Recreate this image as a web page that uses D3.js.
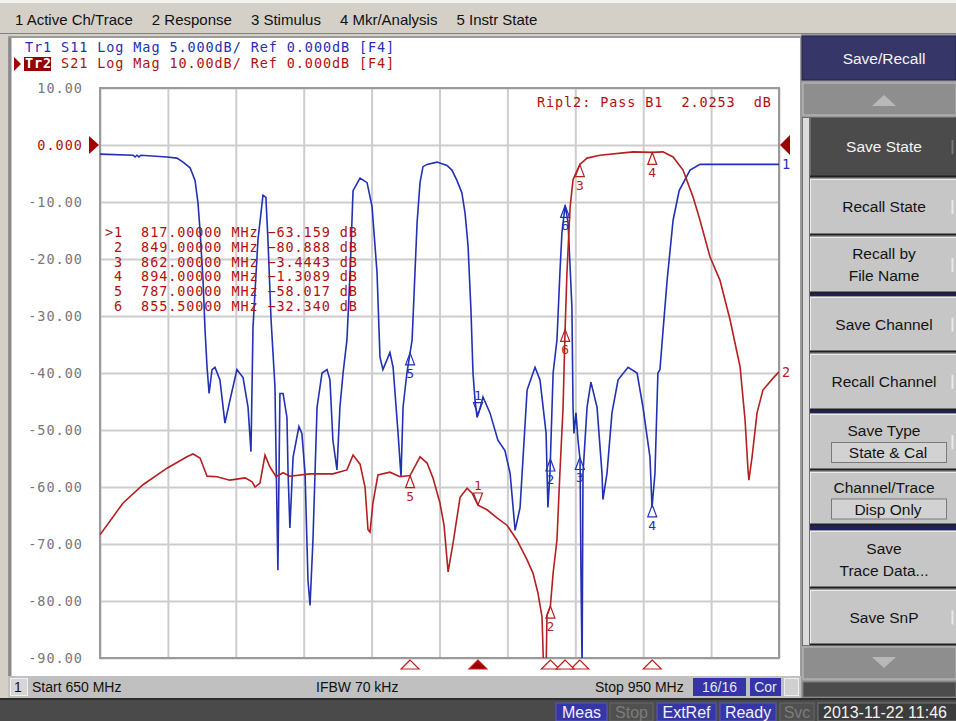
<!DOCTYPE html>
<html>
<head>
<meta charset="utf-8">
<script src="https://cdn.jsdelivr.net/npm/d3@7"></script>
<style>
  body { margin: 0; background: #d4d0c8; }
  svg { display: block; }
</style>
</head>
<body>
<svg id="vna" width="956" height="721"></svg>
<script>
// ---- data ----
var menuLabels = ["1 Active Ch/Trace", "2 Response", "3 Stimulus", "4 Mkr/Analysis", "5 Instr State"];
var traceNames = ["Tr1", "Tr2"];
var traceSetup = ["S11 Log Mag 5.000dB/ Ref 0.000dB [F4]", "S21 Log Mag 10.00dB/ Ref 0.000dB [F4]"];

var startFreq = 650, stopFreq = 950;
var s21Scale = [-90, 10];   // 10 dB/div, ref 0 dB
var s11Scale = [-45, 5];    // 5 dB/div, ref 0 dB
var yTickValues = [10, 0, -10, -20, -30, -40, -50, -60, -70, -80, -90];
var yTickLabels = ["10.00", "0.000", "-10.00", "-20.00", "-30.00", "-40.00", "-50.00", "-60.00", "-70.00", "-80.00", "-90.00"];

// S21 (red trace), MHz / dB
var freqS21 = [650.0, 660.2, 669.0, 679.6, 688.4, 691.1, 694.2, 697.3, 701.7, 707.4, 714.1, 717.2, 718.5, 720.7, 722.9,
  725.1, 727.8, 730.9, 733.9, 742.8, 752.9, 759.1, 761.8, 764.9, 767.1, 768.4, 769.3, 770.6, 772.8, 778.1,
  782.5, 787.0, 791.4, 794.5, 797.1, 800.2, 802.0, 803.8, 806.0, 809.1, 812.2, 814.4, 817.0, 821.0, 825.4,
  829.8, 834.2, 838.7, 841.3, 843.5, 845.3, 846.0, 847.1, 847.5, 849.0, 850.2, 851.9, 853.2, 854.6, 855.5,
  856.3, 857.7, 859.0, 862.0, 865.2, 870.9, 885.5, 894.0, 898.7, 903.2, 907.6, 912.0, 915.1, 919.5, 923.9,
  928.4, 932.8, 935.0, 936.3, 936.7, 938.1, 940.3, 942.9, 947.4, 950.0];
var s21 = [-68.4, -62.8, -59.6, -56.7, -54.7, -54.2, -54.9, -58.1, -58.2, -58.8, -58.4, -59.1, -60.0, -59.3, -54.4,
  -56.5, -58.2, -57.5, -58.1, -57.7, -57.7, -57.0, -54.4, -56.0, -60.0, -67.5, -67.9, -62.8, -57.9, -57.4,
  -58.2, -58.0, -54.7, -55.8, -58.4, -62.8, -66.7, -74.9, -69.8, -61.8, -60.2, -61.1, -63.2, -64.0, -65.4,
  -66.7, -69.3, -72.8, -75.1, -78.6, -82.8, -92.0, -92.0, -82.5, -80.9, -75.1, -69.3, -57.5, -46.0, -32.3,
  -22.5, -10.9, -6.1, -3.4, -2.3, -1.8, -1.2, -1.3, -1.2, -2.1, -4.4, -9.1, -13.2, -19.6, -23.7,
  -30.7, -38.9, -48.2, -57.0, -58.8, -54.7, -47.0, -43.0, -40.9, -39.8];

// S11 (blue trace), MHz / dB
var freqS11 = [650.0, 664.6, 665.5, 666.3, 667.2, 668.1, 679.6, 684.0, 686.7, 689.8, 692.0, 693.3, 694.2, 695.5, 696.4,
  697.3, 698.2, 699.5, 700.8, 703.0, 705.2, 707.4, 710.5, 713.2, 715.4, 716.7, 717.6, 719.8, 722.0, 723.3,
  724.2, 725.6, 727.3, 728.6, 729.5, 730.9, 732.6, 733.1, 733.9, 735.3, 737.9, 739.2, 740.6, 741.9, 742.8,
  744.1, 745.9, 748.1, 750.3, 751.6, 752.9, 754.7, 756.0, 757.4, 759.1, 760.5, 761.8, 764.9, 768.0, 770.2,
  772.4, 773.7, 775.0, 778.1, 779.5, 781.7, 783.0, 783.9, 785.6, 787.9, 790.1, 791.4, 792.7, 794.5, 798.9,
  803.3, 805.5, 807.7, 809.9, 811.3, 812.6, 813.9, 814.8, 815.7, 816.6, 817.9, 819.2, 822.3, 825.8, 828.9,
  831.2, 833.4, 835.6, 838.7, 842.2, 844.4, 847.1, 847.9, 848.8, 850.2, 851.9, 853.2, 854.1, 855.5, 856.8,
  858.5, 859.0, 859.4, 860.3, 861.2, 862.1, 862.5, 863.0, 863.4, 865.2, 866.9, 869.6, 871.8, 872.2, 874.0,
  876.2, 878.9, 883.3, 887.3, 889.9, 893.0, 893.9, 895.2, 896.5, 897.4, 898.8, 900.6, 903.2, 905.9, 910.7,
  915.1, 950.0];
var s11 = [-0.8, -0.9, -1.05, -0.9, -1.05, -0.9, -1.05, -1.15, -1.5, -2.0, -3.1, -5.1, -7.5, -11.8, -16.2,
  -19.5, -21.8, -19.7, -19.5, -20.6, -24.4, -22.4, -19.7, -20.4, -23.0, -26.9, -16.0, -8.3, -4.4, -4.6,
  -8.3, -15.4, -21.2, -37.3, -21.8, -21.8, -23.9, -28.8, -33.6, -27.4, -24.7, -25.3, -28.8, -38.2, -40.4,
  -34.6, -23.0, -20.0, -19.7, -20.6, -25.9, -28.5, -23.0, -20.0, -17.1, -11.2, -4.0, -2.9, -3.3, -5.4,
  -11.2, -18.6, -19.7, -18.2, -19.5, -25.3, -29.1, -23.0, -20.0, -17.1, -6.8, -3.3, -1.9, -1.7, -1.5,
  -1.8, -2.2, -3.1, -4.2, -6.0, -8.8, -14.5, -20.0, -22.4, -23.9, -23.1, -22.1, -23.5, -25.9, -26.8,
  -28.8, -33.8, -31.8, -21.5, -19.5, -20.6, -25.3, -31.8, -28.8, -20.0, -17.1, -11.2, -7.7, -5.3, -6.8,
  -14.2, -23.0, -25.3, -23.5, -25.9, -27.6, -37.5, -46.0, -28.8, -23.0, -20.8, -23.0, -28.8, -31.1, -28.8,
  -23.5, -20.6, -19.5, -20.0, -23.0, -27.4, -31.8, -28.8, -20.0, -19.7, -16.2, -11.8, -6.6, -4.0, -2.2,
  -1.7, -1.7];

// markers (readout belongs to the active trace S21)
var markerIds = [1, 2, 3, 4, 5, 6];
var markerFreqs = [817, 849, 862, 894, 787, 855.5];
var markerS21 = [-63.159, -80.888, -3.4443, -1.3089, -58.017, -32.340];
var activeMarker = 1;
var rippleText = "Ripl2: Pass B1  2.0253  dB";

var ifbwText = "IFBW 70 kHz";
var sweepText = "16/16";
var softkeyTitle = "Save/Recall";
var softkeys = [["Save State"], ["Recall State"], ["Recall by", "File Name"], ["Save Channel"], ["Recall Channel"],
  ["Save Type"], ["Channel/Trace"], ["Save", "Trace Data..."], ["Save SnP"]];
var softkeyValues = [null, null, null, null, null, "State & Cal", "Disp Only", null, null];
var statusLabels = ["Meas", "Stop", "ExtRef", "Ready", "Svc"];
var statusOn = [true, false, true, true, false];
var clockText = "2013-11-22 11:46";

// ---- drawing ----
var BLUE = "#2231b3", RED = "#b41f1f", TXTRED = "#b01010";
var MONO = "'DejaVu Sans Mono', monospace", SANS = "'Liberation Sans', Arial, sans-serif";
var svg = d3.select("#vna");

var plot = {left: 100, right: 779, top: 88, bottom: 658};
var x = d3.scaleLinear().domain([startFreq, stopFreq]).range([plot.left, plot.right]);
var y21 = d3.scaleLinear().domain(s21Scale).range([plot.bottom, plot.top]);
var y11 = d3.scaleLinear().domain(s11Scale).range([plot.bottom, plot.top]);

svg.append("rect").attr("width", 956).attr("height", 721).attr("fill", "#d4d0c8");

// menu bar
svg.append("rect").attr("x", 0).attr("y", 0).attr("width", 956).attr("height", 3).attr("fill", "#f4f2ee");
svg.append("line").attr("x1", 0).attr("x2", 956).attr("y1", 33.5).attr("y2", 33.5).attr("stroke", "#808080");
var mx = 15;
menuLabels.forEach(function (l) {
  var t = svg.append("text").attr("x", mx).attr("y", 25).text(l)
    .style("font-family", SANS).style("font-size", "15px").attr("fill", "#111");
  mx += t.node().getComputedTextLength() + 19;
});

// measurement window
svg.append("rect").attr("x", 9).attr("y", 37).attr("width", 792).attr("height", 640)
  .attr("fill", "#fff").attr("stroke", "#9c9c9c").attr("stroke-width", 2);
svg.append("line").attr("x1", 10).attr("x2", 10).attr("y1", 38).attr("y2", 676)
  .attr("stroke", "#8a8a8a").attr("stroke-width", 3);

// grid
var g = svg.append("g");
g.append("g").attr("transform", "translate(0," + plot.bottom + ")")
  .call(d3.axisBottom(x).tickValues(d3.range(startFreq, stopFreq + 1, 30)).tickSize(-(plot.bottom - plot.top)).tickFormat(""))
  .call(function (a) { a.select(".domain").remove(); a.selectAll("line").attr("stroke", "#cdcdcd").attr("stroke-width", 2); });
g.append("g").attr("transform", "translate(" + plot.left + ",0)")
  .call(d3.axisLeft(y21).tickValues(yTickValues).tickSize(-(plot.right - plot.left)).tickFormat(""))
  .call(function (a) { a.select(".domain").remove(); a.selectAll("line").attr("stroke", "#cdcdcd").attr("stroke-width", 2); });
g.append("rect").attr("x", plot.left).attr("y", plot.top).attr("width", plot.right - plot.left)
  .attr("height", plot.bottom - plot.top).attr("fill", "none").attr("stroke", "#9a9a9a").attr("stroke-width", 2);

// y labels (S21 scale)
g.append("g").attr("transform", "translate(" + plot.left + ",0)")
  .call(d3.axisLeft(y21).tickValues(yTickValues).tickSize(0).tickPadding(17)
    .tickFormat(function (d, i) { return yTickLabels[i]; }))
  .call(function (a) {
    a.select(".domain").remove();
    a.selectAll("text").style("font-family", MONO).style("font-size", "13.5px").style("letter-spacing", "1px")
      .attr("fill", function (d) { return d === 0 ? TXTRED : "#777"; });
  });

// reference position arrows
g.append("path").attr("d", "M" + (plot.left - 11) + "," + (y21(0) - 9) + "L" + (plot.left - 1) + "," + y21(0) + "L" + (plot.left - 11) + "," + (y21(0) + 9) + "Z").attr("fill", "#9c0000");
g.append("path").attr("d", "M" + (plot.right + 11) + "," + (y11(0) - 10) + "L" + (plot.right + 1) + "," + y11(0) + "L" + (plot.right + 11) + "," + (y11(0) + 10) + "Z").attr("fill", "#9c0000");

// traces
svg.append("clipPath").attr("id", "clip").append("rect")
  .attr("x", plot.left).attr("y", plot.top - 1).attr("width", plot.right - plot.left).attr("height", plot.bottom - plot.top + 1);

var line11 = d3.line().x(function (d) { return x(d[0]); }).y(function (d) { return y11(d[1]); });
var line21 = d3.line().x(function (d) { return x(d[0]); }).y(function (d) { return y21(d[1]); });
var traces = svg.append("g").attr("clip-path", "url(#clip)");
traces.append("path").datum(d3.zip(freqS11, s11)).attr("d", line11)
  .attr("fill", "none").attr("stroke", BLUE).attr("stroke-width", 1.6);
traces.append("path").datum(d3.zip(freqS21, s21)).attr("d", line21)
  .attr("fill", "none").attr("stroke", RED).attr("stroke-width", 1.6);

// trace end labels
svg.append("text").attr("x", plot.right + 3).attr("y", y11(s11[s11.length - 1]) + 5).text("1")
  .style("font-family", MONO).style("font-size", "13.5px").attr("fill", BLUE);
svg.append("text").attr("x", plot.right + 3).attr("y", y21(s21[s21.length - 1]) + 5).text("2")
  .style("font-family", MONO).style("font-size", "13.5px").attr("fill", RED);

// markers on traces
function valueAt(fs, vs, f) {
  var i = d3.bisectLeft(fs, f);
  if (i <= 0) return vs[0];
  if (i >= fs.length) return vs[vs.length - 1];
  var t = (f - fs[i - 1]) / (fs[i] - fs[i - 1]);
  return vs[i - 1] + t * (vs[i] - vs[i - 1]);
}
function drawMarker(px, py, id, color) {
  var mg = svg.append("g");
  if (id === activeMarker) {
    mg.append("path").attr("d", "M" + px + "," + py + "L" + (px - 4.5) + "," + (py - 12) + "L" + (px + 4.5) + "," + (py - 12) + "Z")
      .attr("fill", "none").attr("stroke", color).attr("stroke-width", 1.2);
    mg.append("text").attr("x", px).attr("y", py - 15).attr("text-anchor", "middle").text(id)
      .style("font-family", MONO).style("font-size", "13px").attr("fill", color);
  } else {
    mg.append("path").attr("d", "M" + px + "," + py + "L" + (px - 4.5) + "," + (py + 12) + "L" + (px + 4.5) + "," + (py + 12) + "Z")
      .attr("fill", "none").attr("stroke", color).attr("stroke-width", 1.2);
    mg.append("text").attr("x", px).attr("y", py + 25).attr("text-anchor", "middle").text(id)
      .style("font-family", MONO).style("font-size", "13px").attr("fill", color);
  }
}
markerIds.forEach(function (id, i) {
  var f = markerFreqs[i];
  drawMarker(x(f), y11(Math.max(valueAt(freqS11, s11, f), s11Scale[0])), id, BLUE);
});
markerIds.forEach(function (id, i) {
  drawMarker(x(markerFreqs[i]), y21(markerS21[i]), id, RED);
});

// stimulus markers under the grid
markerIds.forEach(function (id, i) {
  var px = x(markerFreqs[i]);
  svg.append("path").attr("d", "M" + px + "," + (plot.bottom + 2) + "L" + (px - 9) + "," + (plot.bottom + 11) + "L" + (px + 9) + "," + (plot.bottom + 11) + "Z")
    .attr("fill", id === activeMarker ? "#a00000" : "#fff").attr("stroke", "#c02020").attr("stroke-width", 1.2);
});

// marker readout
var fmtF = d3.format(".5f"), fmtV = d3.format(".5g");
var readout = svg.append("g").style("font-family", MONO).style("font-size", "13.5px")
  .style("letter-spacing", "0.9px").attr("fill", TXTRED).style("white-space", "pre");
markerIds.forEach(function (id, i) {
  var lead = (id === activeMarker ? ">" : " ") + id;
  readout.append("text").attr("x", 105).attr("y", 237 + i * 14.8).attr("xml:space", "preserve")
    .text(lead + "  " + fmtF(markerFreqs[i]) + " MHz " + fmtV(markerS21[i]) + " dB");
});
readout.append("text").attr("x", 537).attr("y", 107).attr("xml:space", "preserve").text(rippleText);

// trace header lines
var hdr = svg.append("g").style("font-family", MONO).style("font-size", "13.5px").style("letter-spacing", "0.9px")
  .style("white-space", "pre");
hdr.append("text").attr("x", 25).attr("y", 52).attr("xml:space", "preserve").attr("fill", BLUE)
  .text(traceNames[0] + " " + traceSetup[0]);
hdr.append("rect").attr("x", 24).attr("y", 57).attr("width", 27).attr("height", 14).attr("fill", "#900000");
hdr.append("path").attr("d", "M14,57L21,64L14,71Z").attr("fill", "#a00000");
var t2 = hdr.append("text").attr("x", 25).attr("y", 68).attr("xml:space", "preserve");
t2.append("tspan").attr("fill", "#fff").style("font-weight", "bold").text(traceNames[1]);
t2.append("tspan").attr("fill", TXTRED).text(" " + traceSetup[1]);

// channel status bar
svg.append("rect").attr("x", 8).attr("y", 676).attr("width", 793).attr("height", 22).attr("fill", "#c0c0c0");
svg.append("rect").attr("x", 10.5).attr("y", 678.5).attr("width", 17).attr("height", 17).attr("fill", "#d6d6d6").attr("stroke", "#f0f0f0");
var sb = svg.append("g").style("font-family", SANS).style("font-size", "14px").attr("fill", "#111");
sb.append("text").attr("x", 14).attr("y", 692).text("1");
sb.append("text").attr("x", 32).attr("y", 692).text("Start " + startFreq + " MHz");
sb.append("text").attr("x", 316).attr("y", 692).text(ifbwText);
sb.append("text").attr("x", 595).attr("y", 692).text("Stop " + stopFreq + " MHz");
svg.append("rect").attr("x", 693).attr("y", 678).attr("width", 53).attr("height", 18).attr("fill", "#3434a8");
svg.append("text").attr("x", 719.5).attr("y", 692).attr("text-anchor", "middle").text(sweepText)
  .style("font-family", SANS).style("font-size", "14px").attr("fill", "#e8e8f8");
svg.append("rect").attr("x", 750).attr("y", 678).attr("width", 31).attr("height", 18).attr("fill", "#3434a8");
svg.append("text").attr("x", 765.5).attr("y", 692).attr("text-anchor", "middle").text("Cor")
  .style("font-family", SANS).style("font-size", "14px").attr("fill", "#e8e8f8");
svg.append("rect").attr("x", 784.5).attr("y", 678.5).attr("width", 14).attr("height", 17).attr("fill", "#d0d0d0").attr("stroke", "#eee");

// instrument status bar
svg.append("rect").attr("x", 0).attr("y", 698).attr("width", 956).attr("height", 23).attr("fill", "#4a4a4a");
svg.append("line").attr("x1", 0).attr("x2", 956).attr("y1", 699).attr("y2", 699).attr("stroke", "#2c2c2c").attr("stroke-width", 2);
var sx = [556, 610, 657, 720, 780];
var sw = [51, 43, 59, 56, 34];
statusLabels.forEach(function (l, i) {
  svg.append("rect").attr("x", sx[i]).attr("y", 703).attr("width", sw[i]).attr("height", 18)
    .attr("fill", statusOn[i] ? "#3636a6" : "#505050").attr("stroke", statusOn[i] ? "#5a5ac0" : "#666");
  svg.append("text").attr("x", sx[i] + sw[i] / 2).attr("y", 718).attr("text-anchor", "middle").text(l)
    .style("font-family", SANS).style("font-size", "16px").attr("fill", statusOn[i] ? "#f0f0ff" : "#7c7c7c");
});
svg.append("rect").attr("x", 818).attr("y", 703).attr("width", 140).attr("height", 18).attr("fill", "#3c3c3c").attr("stroke", "#777");
svg.append("text").attr("x", 823).attr("y", 718).text(clockText)
  .style("font-family", SANS).style("font-size", "16px").attr("fill", "#f2f2f2");

// softkey panel
var sk = svg.append("g");
sk.append("rect").attr("x", 801).attr("y", 34).attr("width", 155).attr("height", 664).attr("fill", "#9a9a9a");
sk.append("rect").attr("x", 802).attr("y", 36).attr("width", 154).attr("height", 44).attr("fill", "#363668").attr("stroke", "#22224a");
sk.append("text").attr("x", 884).attr("y", 64).attr("text-anchor", "middle").text(softkeyTitle)
  .style("font-family", SANS).style("font-size", "15.5px").attr("fill", "#f4f4f4");
// scroll arrows
sk.append("rect").attr("x", 803).attr("y", 83).attr("width", 153).attr("height", 32).attr("fill", "#8e8e8e").attr("stroke", "#bdbdbd");
sk.append("path").attr("d", "M872,106L884,95L896,106Z").attr("fill", "#b8b8b8");
sk.append("rect").attr("x", 803).attr("y", 647).attr("width", 153).attr("height", 32).attr("fill", "#8e8e8e").attr("stroke", "#bdbdbd");
sk.append("path").attr("d", "M872,657L884,668L896,657Z").attr("fill", "#b8b8b8");
sk.append("rect").attr("x", 803).attr("y", 682).attr("width", 153).attr("height", 15).attr("fill", "#4c4c4c").attr("stroke", "#777");
// left scroll strip
sk.append("rect").attr("x", 802.5).attr("y", 117.5).attr("width", 7).attr("height", 528).attr("fill", "#dcdcdc").attr("stroke", "#707070");

var keyTop = [117, 179, 237, 297, 354, 414, 472, 531, 590];
var keyBottom = [177, 235, 293, 352, 410, 470, 525, 588, 645];
[[293, 296], [410, 413], [525, 530]].forEach(function (s) {
  sk.append("rect").attr("x", 810).attr("y", s[0]).attr("width", 146).attr("height", s[1] - s[0]).attr("fill", "#22225a");
});
softkeys.forEach(function (lines, i) {
  var y0 = keyTop[i], y1 = keyBottom[i], dark = i === 0;
  sk.append("rect").attr("x", 810).attr("y", y0).attr("width", 146).attr("height", y1 - y0)
    .attr("fill", dark ? "#4b4b4b" : "#c6c6c6");
  sk.append("line").attr("x1", 810).attr("x2", 956).attr("y1", y0 + 0.5).attr("y2", y0 + 0.5).attr("stroke", dark ? "#6a6a6a" : "#ececec");
  sk.append("line").attr("x1", 810.5).attr("x2", 810.5).attr("y1", y0).attr("y2", y1).attr("stroke", dark ? "#6a6a6a" : "#ececec");
  sk.append("line").attr("x1", 810).attr("x2", 956).attr("y1", y1 - 0.5).attr("y2", y1 - 0.5).attr("stroke", "#202020").attr("stroke-width", 2);
  var cy = (y0 + y1) / 2, val = softkeyValues[i];
  var n = lines.length + (val ? 1 : 0);
  var first = cy - (n - 1) * 11 + 5;
  lines.forEach(function (l, j) {
    sk.append("text").attr("x", 884).attr("y", first + j * 22).attr("text-anchor", "middle").text(l)
      .style("font-family", SANS).style("font-size", "15.5px").attr("fill", dark ? "#f4f4f4" : "#141414");
  });
  if (val) {
    var by = first + lines.length * 22;
    sk.append("rect").attr("x", 831.5).attr("y", by - 15.5).attr("width", 115).attr("height", 20)
      .attr("fill", "#d2d2d2").attr("stroke", "#7a7a7a");
    sk.append("text").attr("x", 888).attr("y", by).attr("text-anchor", "middle").text(val)
      .style("font-family", SANS).style("font-size", "15.5px").attr("fill", "#141414");
  }
  if ([0, 1, 2, 3, 4, 5, 8].indexOf(i) >= 0) {
    sk.append("line").attr("x1", 952.5).attr("x2", 952.5).attr("y1", cy - 7).attr("y2", cy + 7)
      .attr("stroke", dark ? "#777" : "#e8e8e8").attr("stroke-width", 2);
  }
});
</script>
</body>
</html>
